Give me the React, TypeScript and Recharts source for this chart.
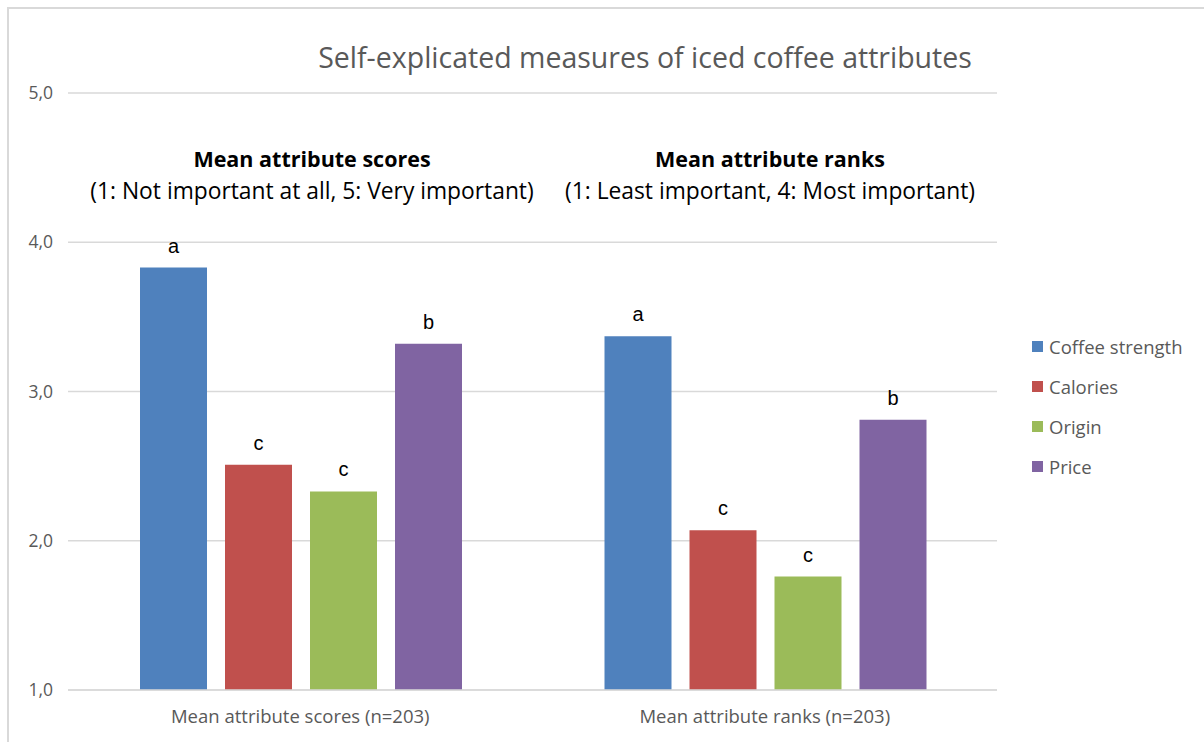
import { Bar, BarChart, CartesianGrid, LabelList, XAxis, YAxis } from "recharts";

const categories = ["Mean attribute scores (n=203)", "Mean attribute ranks (n=203)"];

const coffeeStrength = [3.83, 3.37];
const calories = [2.51, 2.07];
const origin = [2.33, 1.76];
const price = [3.32, 2.81];

// significance letters per attribute, one per category
const coffeeLetters = ["a", "a"];
const caloriesLetters = ["c", "c"];
const originLetters = ["c", "c"];
const priceLetters = ["b", "b"];

const yTicks = [1, 2, 3, 4, 5];

const series = [
  { key: "coffee", name: "Coffee strength", fill: "#4F81BD", values: coffeeStrength, letters: coffeeLetters },
  { key: "calories", name: "Calories", fill: "#C0504D", values: calories, letters: caloriesLetters },
  { key: "origin", name: "Origin", fill: "#9BBB59", values: origin, letters: originLetters },
  { key: "price", name: "Price", fill: "#8064A2", values: price, letters: priceLetters },
];

const data = categories.map((cat, i) => {
  const row: Record<string, string | number> = { cat };
  series.forEach((s) => {
    row[s.key] = s.values[i];
    row[s.key + "Letter"] = s.letters[i];
  });
  return row;
});

const FONT = "'Open Sans', Lato, sans-serif";
const GRAY = "#595959";

function LegendBox() {
  return (
    <ul
      style={{
        position: "absolute",
        left: 1032,
        top: 326,
        listStyle: "none",
        margin: 0,
        padding: 0,
        fontFamily: FONT,
        fontSize: 18.5,
        color: GRAY,
      }}
    >
      {series.map((s) => (
        <li key={s.key} style={{ display: "flex", alignItems: "center", height: 40, whiteSpace: "nowrap" }}>
          <span style={{ display: "inline-block", width: 11, height: 11, background: s.fill, marginRight: 6 }} />
          {s.name}
        </li>
      ))}
    </ul>
  );
}

export default function App() {
  return (
    <div style={{ position: "absolute", left: 0, top: 0, width: 1204, height: 742, background: "#fff", overflow: "hidden" }}>
      <div
        style={{
          position: "absolute",
          left: 7,
          top: 7,
          width: 1300,
          height: 900,
          borderLeft: "2px solid #d9d9d9",
          borderTop: "2px solid #d9d9d9",
        }}
      />
      <BarChart
        width={1204}
        height={742}
        data={data}
        margin={{ top: 93, right: 207, left: 0, bottom: 22 }}
        barCategoryGap={72}
        barGap={18}
      >
        <CartesianGrid vertical={false} stroke="#d9d9d9" strokeWidth={1.3} />
        <XAxis
          dataKey="cat"
          height={30}
          tickLine={false}
          axisLine={{ stroke: "#d9d9d9", strokeWidth: 1.3 }}
          tickMargin={14}
          tick={{ fill: GRAY, fontSize: 18.5, fontFamily: FONT }}
        />
        <YAxis
          width={68}
          domain={[1, 5]}
          ticks={yTicks}
          axisLine={false}
          tickLine={false}
          tickMargin={9}
          tickFormatter={(v: number) => v.toFixed(1).replace(".", ",")}
          tick={{ fill: GRAY, fontSize: 17.5, fontFamily: FONT }}
        />
        {series.map((s) => (
          <Bar key={s.key} dataKey={s.key} name={s.name} fill={s.fill} isAnimationActive={false}>
            <LabelList
              dataKey={s.key + "Letter"}
              position="top"
              offset={15}
              fill="#000"
              fontSize={20}
              fontFamily="'Liberation Sans', Arial, sans-serif"
            />
          </Bar>
        ))}
      </BarChart>
      <LegendBox />
      <div
        style={{
          position: "absolute",
          left: 0,
          width: 1290,
          top: 38,
          textAlign: "center",
          fontFamily: FONT,
          fontSize: 28.5,
          color: GRAY,
        }}
      >
        Self-explicated measures of iced coffee attributes
      </div>
      <div style={{ position: "absolute", left: 12, width: 600, top: 143, textAlign: "center", fontFamily: FONT, color: "#000", lineHeight: "32px" }}>
        <div style={{ fontWeight: 700, fontSize: 21.5 }}>Mean attribute scores</div>
        <div style={{ fontSize: 22.8 }}>(1: Not important at all, 5: Very important)</div>
      </div>
      <div style={{ position: "absolute", left: 470, width: 600, top: 143, textAlign: "center", fontFamily: FONT, color: "#000", lineHeight: "32px" }}>
        <div style={{ fontWeight: 700, fontSize: 21.5 }}>Mean attribute ranks</div>
        <div style={{ fontSize: 22.8 }}>(1: Least important, 4: Most important)</div>
      </div>
    </div>
  );
}
